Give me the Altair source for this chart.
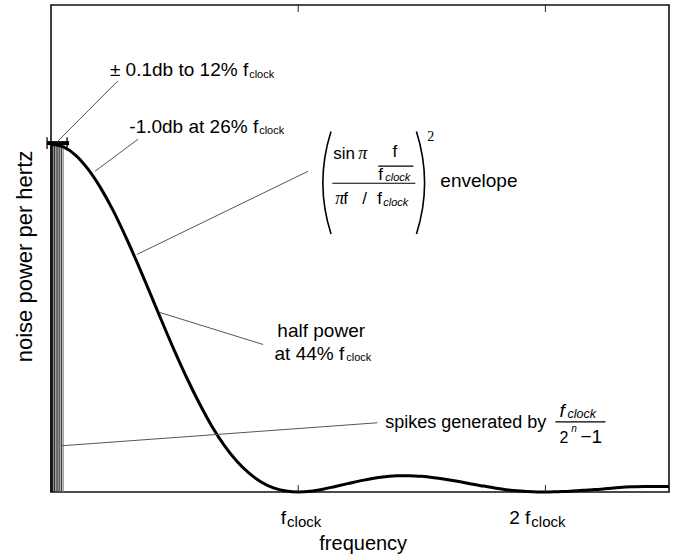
import altair as alt
import pandas as pd

SANS = "Liberation Sans"
SERIF = "Liberation Serif"

# ---- envelope curve (frequency in units of f_clock) ----
freq = [0.00, 0.05, 0.10, 0.15, 0.20, 0.25, 0.30, 0.35, 0.40, 0.45,
        0.50, 0.55, 0.60, 0.65, 0.70, 0.75, 0.80, 0.85, 0.90, 0.95,
        1.00, 1.05, 1.10, 1.15, 1.20, 1.25, 1.30, 1.35, 1.40, 1.45,
        1.50, 1.55, 1.60, 1.65, 1.70, 1.75, 1.80, 1.85, 1.90, 1.95,
        2.00, 2.05, 2.10, 2.15, 2.20, 2.25, 2.30, 2.35, 2.40, 2.45, 2.50]
power = [1.000, 0.992, 0.968, 0.928, 0.875, 0.811, 0.737, 0.657, 0.573, 0.488,
         0.405, 0.327, 0.255, 0.190, 0.135, 0.090, 0.055, 0.029, 0.012, 0.003,
         0.000, 0.002, 0.008, 0.016, 0.024, 0.032, 0.039, 0.044, 0.047, 0.047,
         0.045, 0.041, 0.036, 0.030, 0.023, 0.017, 0.011, 0.006, 0.003, 0.001,
         0.000, 0.001, 0.002, 0.005, 0.007, 0.010, 0.013, 0.015, 0.016, 0.016, 0.016]

# ---- spikes near DC ----
spike_freq = [0.000, 0.007, 0.014, 0.021, 0.028, 0.035, 0.042, 0.049]
spike_power = [1.0, 1.0, 1.0, 1.0, 1.0, 1.0, 1.0, 0.995]
spike_color = ["#000000", "#111111", "#333333", "#555555", "#333333", "#666666", "#444444", "#888888"]

# ---- axis ticks ----
tick_pos = [1, 2]

XS = alt.Scale(domain=[0, 2.5], nice=False, zero=False)
YS = alt.Scale(domain=[0, 1.4], nice=False, zero=False)


def xe(field="f"):
    return alt.X(f"{field}:Q", scale=XS, axis=None)


def ye(field="v"):
    return alt.Y(f"{field}:Q", scale=YS, axis=None)


curve_df = pd.DataFrame({"f": freq, "v": power})
curve = alt.Chart(curve_df).mark_line(color="black", strokeWidth=3, interpolate="monotone").encode(
    x=xe(), y=ye())

spike_df = pd.DataFrame({"f": spike_freq, "v": spike_power, "c": spike_color, "z": [0.0] * len(spike_freq)})
spikes = alt.Chart(spike_df).mark_rule(strokeWidth=1.3).encode(
    x=xe(), y=ye("z"), y2="v:Q", color=alt.Color("c:N", scale=None))

# +/- 0.1 dB marker at the top of the spikes
bar_df = pd.DataFrame({"f": [-0.016], "f2": [0.073], "v": [1.003]})
bar = alt.Chart(bar_df).mark_rule(color="black", strokeWidth=4).encode(x=xe(), x2="f2:Q", y=ye())
cross_df = pd.DataFrame({"f": [-0.016, 0.065], "v": [0.986, 0.986], "v2": [1.020, 1.020]})
cross = alt.Chart(cross_df).mark_rule(color="black", strokeWidth=1.3).encode(x=xe(), y=ye(), y2="v2:Q")

# inward ticks at f_clock and 2 f_clock (bottom and top)
tick_df = pd.DataFrame({"f": tick_pos * 2, "v": [0.0, 0.0, 1.38, 1.38], "v2": [0.02, 0.02, 1.4, 1.4]})
ticks = alt.Chart(tick_df).mark_rule(color="#222", strokeWidth=1).encode(x=xe(), y=ye(), y2="v2:Q")

# leader lines
lead_f = [0.271, 0.352, 1.040, 0.441, 0.045]
lead_v = [1.182, 1.014, 0.922, 0.516, 0.133]
lead_f2 = [0.024, 0.178, 0.348, 0.858, 1.320]
lead_v2 = [1.006, 0.922, 0.683, 0.424, 0.199]
lead_df = pd.DataFrame({"f": lead_f, "v": lead_v, "f2": lead_f2, "v2": lead_v2})
leaders = alt.Chart(lead_df).mark_rule(color="#555", strokeWidth=1).encode(
    x=xe(), y=ye(), x2="f2:Q", y2="v2:Q")

# fraction bars in the formulas
frac_df = pd.DataFrame({"f": [1.324, 1.138, 2.040], "f2": [1.466, 1.474, 2.243], "v": [0.937, 0.8876, 0.2017]})
fracs = alt.Chart(frac_df).mark_rule(color="black", strokeWidth=1.2).encode(x=xe(), x2="f2:Q", y=ye())

# big parentheses around the envelope formula
paren_l = alt.Chart(pd.DataFrame({"f": [1.785], "v": [0.889]})).mark_arc(
    radius=170, radius2=168.4, theta=4.404, theta2=5.020, color="black").encode(x=xe(), y=ye())
paren_r = alt.Chart(pd.DataFrame({"f": [0.826], "v": [0.889]})).mark_arc(
    radius=170, radius2=168.4, theta=1.263, theta2=1.878, color="black").encode(x=xe(), y=ye())


def text_layer(t, f, v, size, align="left", font=SANS, style="normal", angle=0):
    df = pd.DataFrame({"t": t, "f": f, "v": v})
    return alt.Chart(df).mark_text(align=align, baseline="alphabetic", font=font, fontSize=size,
                                   fontStyle=style, color="black", angle=angle).encode(
        x=xe(), y=ye(), text="t:N")


# annotation texts
main_right = text_layer(["± 0.1db to 12% f", "-1.0db at 26% f", "at 44% f"],
                        [0.7976, 0.8381, 1.1862], [1.196, 1.0317, 0.3804], 19, align="right")
subs = text_layer(["clock", "clock", "clock"], [0.8016, 0.8421, 1.1943], [1.190, 1.0288, 0.3775], 11)
main_left = text_layer(["envelope", "\u22121"], [1.575, 2.142], [0.876, 0.1412], 19)
spikes_txt = text_layer(["spikes generated by"], [1.352], [0.1844], 18)
half = text_layer(["half power"], [1.093], [0.4467], 19, align="center")

# envelope formula pieces
form_sans = text_layer(["sin", "f", "f", "f", "/", "f"],
                       [1.142, 1.381, 1.324, 1.182, 1.259, 1.320],
                       [0.9568, 0.9625, 0.8963, 0.827, 0.827, 0.827], 17)
form_pi = text_layer(["\u03c0", "\u03c0"], [1.243, 1.150], [0.9568, 0.827], 18, font=SERIF, style="italic")
form_sub = text_layer(["clock", "clock"], [1.352, 1.344], [0.8934, 0.8213], 11, style="italic")
form_sq = text_layer(["2"], [1.522], [1.0086], 14, font=SERIF)

# spikes fraction pieces
sp_f = text_layer(["f"], [2.057], [0.2161], 19, style="italic")
sp_clock = text_layer(["clock"], [2.089], [0.2133], 12.5, style="italic")
sp_two = text_layer(["2"], [2.057], [0.1412], 16)
sp_n = text_layer(["n"], [2.105], [0.172], 10, style="italic")

# x tick labels
tick_main = text_layer(["f", "2 f"], [0.951, 1.939], [-0.0922, -0.0922], 19, align="right")
tick_sub = text_layer(["clock", "clock"], [0.955, 1.943], [-0.1009, -0.1009], 15)

# axis titles
x_title = text_layer(["frequency"], [1.263], [-0.167], 20, align="center")
y_title = alt.Chart(pd.DataFrame({"t": ["noise power per hertz"], "f": [-0.105], "v": [0.677]})).mark_text(
    align="center", baseline="middle", font=SANS, fontSize=22, color="black", angle=270).encode(
    x=xe(), y=ye(), text="t:N")

chart = alt.layer(
    spikes, curve, bar, cross, ticks, leaders, fracs, paren_l, paren_r,
    main_right, subs, main_left, spikes_txt, half, form_sans, form_pi, form_sub, form_sq,
    sp_f, sp_clock, sp_two, sp_n, tick_main, tick_sub, x_title, y_title,
).properties(
    width=618, height=487,
    autosize=alt.AutoSizeParams(type="none"),
    padding={"left": 51, "top": 5, "right": 10, "bottom": 68},
    background="white",
).configure_view(stroke="#111", strokeWidth=1.6)

chart.save("out.html", embed_options={"renderer": "svg", "actions": False})
